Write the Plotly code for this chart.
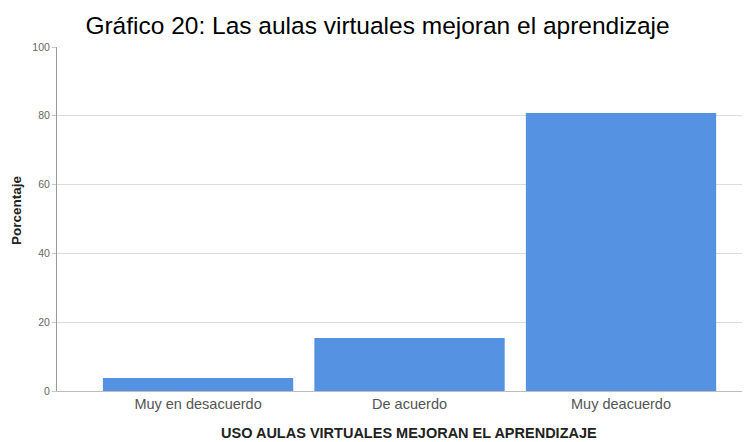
import plotly.graph_objects as go

categories = ["Muy en desacuerdo", "De acuerdo", "Muy deacuerdo"]
percentages = [3.8, 15.4, 80.8]
y_ticks = [0, 20, 40, 60, 80, 100]

FONT = "Liberation Sans, Arial, sans-serif"
# the page body adds an 8px offset, so the figure is 8px smaller
OFF = 8
W, H = 750 - OFF, 442 - OFF
L, R, T = 57 - OFF, 0, 47 - OFF
B = H - (391 - OFF)

fig = go.Figure()
fig.add_trace(go.Bar(
    x=list(range(len(categories))),
    y=percentages,
    width=0.9,
    marker=dict(color="#5592e2", line=dict(width=0)),
    hoverinfo="skip",
))

fig.update_layout(
    width=W, height=H,
    margin=dict(l=L, r=R, t=T, b=B, autoexpand=False),
    paper_bgcolor="white", plot_bgcolor="white",
    showlegend=False,
    font=dict(family=FONT),
    title=dict(
        text="Gráfico 20: Las aulas virtuales mejoran el aprendizaje",
        font=dict(family=FONT, size=24.5, color="black"),
        x=(377.5 - OFF) / W, xanchor="center", xref="container",
        y=1 - (25 - OFF) / H, yanchor="middle", yref="container",
    ),
)

fig.update_xaxes(
    range=[-0.667, 2.61],
    tickmode="array",
    tickvals=list(range(len(categories))),
    ticktext=categories,
    tickfont=dict(family=FONT, size=14.5, color="#555555"),
    showgrid=False,
    showline=True, linecolor="#bdbdbd", linewidth=1,
    ticks="", ticklen=0,
    automargin=False,
    zeroline=False,
)

fig.update_yaxes(
    range=[0, 100],
    tickmode="array",
    tickvals=y_ticks,
    ticktext=[str(v) for v in y_ticks],
    tickfont=dict(family=FONT, size=10.5, color="#666666"),
    showgrid=True, gridcolor="#dcdcdc", gridwidth=1,
    showline=True, linecolor="#9a9a9a", linewidth=1,
    ticks="outside", ticklen=4, tickcolor="#c8c8c8",
    automargin=False,
    zeroline=False,
)

PW, PH = W - L - R, H - T - B

fig.add_annotation(
    text="<b>USO AULAS VIRTUALES MEJORAN EL APRENDIZAJE</b>",
    xref="paper", yref="paper",
    x=(409 - OFF - L) / PW, y=-(433 - OFF - (H - B)) / PH,
    xanchor="center", yanchor="middle", showarrow=False,
    font=dict(family=FONT, size=14.5, color="#222222"),
)
fig.add_annotation(
    text="<b>Porcentaje</b>",
    xref="paper", yref="paper",
    x=-(L - (17 - OFF)) / PW, y=((H - B) - (210 - OFF)) / PH,
    xanchor="center", yanchor="middle", showarrow=False, textangle=-90,
    font=dict(family=FONT, size=13.5, color="#222222"),
)

fig.write_html("out.html")
